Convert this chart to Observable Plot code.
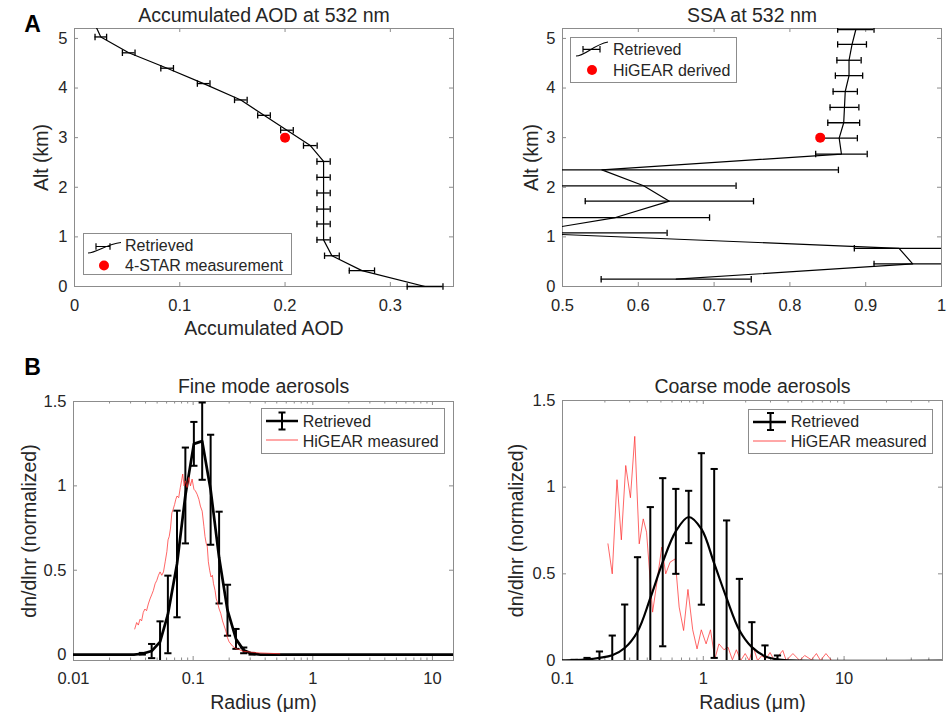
<!DOCTYPE html>
<html>
<head>
<meta charset="utf-8">
<script src="https://cdn.jsdelivr.net/npm/d3@7"></script>
<script src="https://cdn.jsdelivr.net/npm/@observablehq/plot@0.6"></script>
<style>
html,body{margin:0;padding:0;background:#fff;}
#fig{position:relative;width:951px;height:712px;overflow:hidden;background:#fff;}
</style>
</head>
<body>
<div id="fig"></div>
<script>
const FONT = '"Liberation Sans", Arial, Helvetica, sans-serif';
const INK = "#262626";
const BOX = "#8c8c8c";

// ---------- Panel A left: accumulated AOD at 532 nm ----------
const aodAlt = [5.30, 5.03, 4.71, 4.40, 4.09, 3.76, 3.45, 3.15, 2.84, 2.52, 2.20, 1.885, 1.56, 1.26, 0.94, 0.62, 0.32, 0.00];
const aodVal = [0.019, 0.025, 0.0515, 0.088, 0.1227, 0.158, 0.180, 0.2018, 0.224, 0.2366, 0.2366, 0.2366, 0.2366, 0.2366, 0.2366, 0.2445, 0.273, 0.333];
const aodErr = [0, 0.0055, 0.006, 0.006, 0.006, 0.006, 0.006, 0.006, 0.0065, 0.0063, 0.0063, 0.0063, 0.0063, 0.0063, 0.0063, 0.007, 0.012, 0.017];
const starAlt = [3.0];
const starAod = [0.20];
const aodXTicks = [0, 0.1, 0.2, 0.3];
const altTicks = [0, 1, 2, 3, 4, 5];

// ---------- Panel A right: SSA at 532 nm ----------
const ssaAlt = [5.18, 4.88, 4.56, 4.25, 3.93, 3.61, 3.30, 2.99, 2.67, 2.35, 2.03, 1.72, 1.39, 1.08, 0.77, 0.456, 0.147];
const ssaVal = [0.887, 0.882, 0.878, 0.878, 0.873, 0.872, 0.871, 0.865, 0.868, 0.552, 0.607, 0.641, 0.570, 0.449, 0.944, 0.962, 0.650];
const ssaErr = [0.024, 0.019, 0.016, 0.018, 0.016, 0.019, 0.021, 0.024, 0.034, 0.312, 0.122, 0.111, 0.124, 0.189, 0.059, 0.051, 0.099];
const higearAlt = [3.0];
const higearSsa = [0.84];
const ssaXTicks = [0.5, 0.6, 0.7, 0.8, 0.9, 1];

// ---------- Panel B left: fine mode aerosols ----------
const fineR = [0.005, 0.032, 0.0376, 0.045, 0.0529, 0.0615, 0.0733, 0.0861, 0.1014, 0.119, 0.140, 0.1648, 0.1937, 0.228, 0.2647, 0.311, 0.366, 20];
const fineV = [0, 0, 0.005, 0.021, 0.075, 0.238, 0.537, 0.943, 1.249, 1.265, 0.977, 0.575, 0.263, 0.093, 0.025, 0.005, 0, 0];
const fineE = [0, 0, 0.005, 0.042, 0.122, 0.230, 0.316, 0.284, 0.130, 0.229, 0.326, 0.272, 0.151, 0.059, 0.017, 0.005, 0, 0];
const fineHiR = [0.0325, 0.0337, 0.0348, 0.036, 0.0371, 0.0383, 0.0395, 0.0408, 0.0422, 0.0436, 0.045, 0.0465, 0.0481, 0.0497, 0.0513, 0.0529, 0.0547, 0.0565, 0.0584, 0.0603, 0.0617, 0.0631, 0.0647, 0.0664, 0.068, 0.070, 0.0716, 0.0733, 0.0757, 0.0781, 0.080, 0.0818, 0.084, 0.0861, 0.089, 0.092, 0.095, 0.098, 0.1015, 0.1045, 0.108, 0.1117, 0.115, 0.119, 0.123, 0.1256, 0.1285, 0.1313, 0.134, 0.1374, 0.141, 0.1448, 0.148, 0.1525, 0.156, 0.1596, 0.165, 0.170, 0.176, 0.1817, 0.1877, 0.1937, 0.200, 0.2137, 0.228, 0.2433, 0.260, 0.2767, 0.300, 0.330, 0.359, 0.420, 0.530];
const fineHiV = [0.152, 0.19, 0.175, 0.21, 0.20, 0.25, 0.27, 0.26, 0.30, 0.33, 0.354, 0.38, 0.42, 0.44, 0.47, 0.49, 0.47, 0.49, 0.55, 0.61, 0.68, 0.70, 0.75, 0.84, 0.86, 0.89, 0.92, 0.94, 0.93, 0.99, 1.03, 1.07, 1.00, 1.03, 0.99, 1.05, 1.00, 1.04, 0.98, 0.97, 0.95, 0.92, 0.88, 0.85, 0.76, 0.70, 0.66, 0.64, 0.55, 0.50, 0.46, 0.47, 0.42, 0.38, 0.33, 0.31, 0.27, 0.245, 0.20, 0.17, 0.14, 0.10, 0.075, 0.05, 0.035, 0.03, 0.02, 0.018, 0.015, 0.012, 0.01, 0.008, 0.005];
const fineXTicks = [0.01, 0.1, 1, 10];
const dnTicks = [0, 0.5, 1, 1.5];

// ---------- Panel B right: coarse mode aerosols ----------
const coarseR = [0.098, 0.1211, 0.1494, 0.183, 0.2256, 0.2765, 0.341, 0.4204, 0.515, 0.638, 0.787, 0.969, 1.195, 1.464, 1.805, 2.213, 2.742, 3.365, 4.15, 60];
const coarseV = [0.001, 0.002, 0.006, 0.015, 0.030, 0.072, 0.166, 0.360, 0.567, 0.745, 0.828, 0.759, 0.560, 0.360, 0.175, 0.077, 0.025, 0.006, 0.001, 0];
const coarseE = [0, 0.002, 0.009, 0.037, 0.114, 0.251, 0.430, 0.525, 0.485, 0.245, 0.151, 0.437, 0.545, 0.448, 0.296, 0.144, 0.062, 0.023, 0, 0];
const coarseHiR = [0.2103, 0.2256, 0.2438, 0.2618, 0.2812, 0.3037, 0.326, 0.3507, 0.3746, 0.3954, 0.4365, 0.4667, 0.5067, 0.541, 0.5807, 0.631, 0.674, 0.7247, 0.778, 0.841, 0.903, 0.968, 1.047, 1.125, 1.209, 1.292, 1.402, 1.498, 1.609, 1.718, 1.845, 1.984, 2.118, 2.264, 2.43, 2.597, 2.79, 2.98, 3.2, 3.42, 3.67, 3.88, 4.33, 4.84, 5.25, 5.86, 6.36, 6.8, 7.43, 8.15];
const coarseHiV = [0.673, 0.50, 1.043, 0.696, 1.125, 0.939, 1.293, 0.673, 0.817, 0.74, 0.279, 0.442, 0.654, 0.50, 0.567, 0.586, 0.308, 0.173, 0.41, 0.177, 0.067, 0.177, 0.096, 0.177, 0.01, 0.096, 0.062, 0.077, 0.004, 0.062, 0, 0.04, 0, 0.077, 0, 0.027, 0.01, 0.046, 0, 0.027, 0.058, 0, 0.04, 0, 0.029, 0.004, 0.04, 0, 0.04, 0];
const coarseXTicks = [0.1, 1, 10];

// ---------- helpers ----------
const fig = document.getElementById("fig");
const vbar = {draw(ctx, size) { const h = Math.sqrt(size / Math.PI); ctx.moveTo(0, -h); ctx.lineTo(0, h); }};
const hbar = {draw(ctx, size) { const h = Math.sqrt(size / Math.PI); ctx.moveTo(-h, 0); ctx.lineTo(h, 0); }};
const style = {background: "transparent", fontFamily: FONT, fontSize: "16.5px", color: INK, overflow: "visible"};

function boxTicks(xs, ys, fw, fh, len) {
  const o = {stroke: BOX, strokeWidth: 1};
  return [
    Plot.tickX(xs, {x: d => d, insetTop: fh - len, ...o}),
    Plot.tickX(xs, {x: d => d, insetBottom: fh - len, ...o}),
    Plot.tickY(ys, {y: d => d, insetRight: fw - len, ...o}),
    Plot.tickY(ys, {y: d => d, insetLeft: fw - len, ...o})
  ];
}
function minorTicks(lo, hi) {
  const out = [];
  for (let e = Math.floor(Math.log10(lo)); e <= Math.ceil(Math.log10(hi)); e++)
    for (let m = 2; m <= 9; m++) { const v = m * Math.pow(10, e); if (v > lo && v < hi) out.push(+v.toPrecision(3)); }
  return out;
}
function minorX(xs, fh, len) {
  const o = {stroke: BOX, strokeWidth: 1};
  return [
    Plot.tickX(xs, {x: d => d, insetTop: fh - len, ...o}),
    Plot.tickX(xs, {x: d => d, insetBottom: fh - len, ...o})
  ];
}
function labels({title, xlabel, ylabel, tdy, ydx}) {
  return [
    Plot.text([title], {text: d => d, frameAnchor: "top", lineAnchor: "top", textAnchor: "middle", dy: tdy, fontSize: 19.5, fill: INK}),
    Plot.text([xlabel], {text: d => d, frameAnchor: "bottom", lineAnchor: "top", textAnchor: "middle", dy: 35, fontSize: 19.5, fill: INK}),
    Plot.text([ylabel], {text: d => d, frameAnchor: "left", lineAnchor: "middle", textAnchor: "middle", rotate: -90, dx: ydx, fontSize: 19.5, fill: INK})
  ];
}
function place(svg, left, top) {
  svg.style.position = "absolute";
  svg.style.left = left + "px";
  svg.style.top = top + "px";
  fig.appendChild(svg);
}

// ---------- Panel A left ----------
const aodRows = aodAlt.map((a, i) => ({alt: a, val: aodVal[i], err: aodErr[i]}));
const aodBars = aodRows.filter(d => d.err > 0);
const starRows = starAlt.map((a, i) => ({alt: a, aod: starAod[i]}));
place(Plot.plot({
  width: 480, height: 340, marginLeft: 74, marginRight: 27, marginTop: 28, marginBottom: 54,
  x: {domain: [0, 0.36]}, y: {domain: [0, 5.2]}, style,
  marks: [
    Plot.frame({stroke: BOX}),
    ...boxTicks(aodXTicks, altTicks, 379, 258, 4),
    Plot.axisX(aodXTicks, {tickSize: 0, tickPadding: 13, label: null, tickFormat: d => String(d)}),
    Plot.axisY(altTicks, {tickSize: 0, tickPadding: 7, label: null, tickFormat: d => String(d)}),
    Plot.line(aodRows, {x: "val", y: "alt", stroke: "black", strokeWidth: 1.2, clip: true}),
    Plot.ruleY(aodBars, {y: "alt", x1: d => d.val - d.err, x2: d => d.val + d.err, stroke: "black", strokeWidth: 1.3}),
    Plot.dot(aodBars, {x: d => d.val - d.err, y: "alt", symbol: vbar, r: 3.2, stroke: "black", strokeWidth: 1.3, fill: "none"}),
    Plot.dot(aodBars, {x: d => d.val + d.err, y: "alt", symbol: vbar, r: 3.2, stroke: "black", strokeWidth: 1.3, fill: "none"}),
    Plot.dot(starRows, {x: "aod", y: "alt", r: 5, fill: "red", stroke: "none"}),
    ...labels({title: "Accumulated AOD at 532 nm", xlabel: "Accumulated AOD", ylabel: "Alt (km)", tdy: -20.7, ydx: -33}),
    Plot.text(["A"], {text: d => d, frameAnchor: "top-left", lineAnchor: "top", textAnchor: "middle", dx: -42, dy: -13, fontSize: 23, fontWeight: "bold", fill: "black"})
  ]
}), 0, 0);

// ---------- Panel A right ----------
const ssaRows = ssaAlt.map((a, i) => ({alt: a, val: ssaVal[i], err: ssaErr[i]}));
const higearRows = higearAlt.map((a, i) => ({alt: a, ssa: higearSsa[i]}));
place(Plot.plot({
  width: 471, height: 340, marginLeft: 82, marginRight: 10, marginTop: 28, marginBottom: 54,
  x: {domain: [0.5, 1]}, y: {domain: [0, 5.2]}, style,
  marks: [
    Plot.frame({stroke: BOX}),
    ...boxTicks(ssaXTicks, altTicks, 379, 258, 4),
    Plot.axisX(ssaXTicks, {tickSize: 0, tickPadding: 13, label: null, tickFormat: d => String(d)}),
    Plot.axisY(altTicks, {tickSize: 0, tickPadding: 7, label: null, tickFormat: d => String(d)}),
    Plot.line(ssaRows, {x: "val", y: "alt", stroke: "black", strokeWidth: 1.2, clip: true}),
    Plot.ruleY(ssaRows, {y: "alt", x1: d => d.val - d.err, x2: d => d.val + d.err, stroke: "black", strokeWidth: 1.3, clip: true}),
    Plot.dot(ssaRows, {x: d => d.val - d.err, y: "alt", symbol: vbar, r: 3.2, stroke: "black", strokeWidth: 1.3, fill: "none", clip: true}),
    Plot.dot(ssaRows, {x: d => d.val + d.err, y: "alt", symbol: vbar, r: 3.2, stroke: "black", strokeWidth: 1.3, fill: "none", clip: true}),
    Plot.dot(higearRows, {x: "ssa", y: "alt", r: 5, fill: "red", stroke: "none"}),
    ...labels({title: "SSA at 532 nm", xlabel: "SSA", ylabel: "Alt (km)", tdy: -20.7, ydx: -31})
  ]
}), 480, 0);

// ---------- Panel B left ----------
const fineRows = fineR.map((r, i) => ({r, v: fineV[i], e: fineE[i]}));
const fineBars = fineRows.filter(d => d.e > 0);
const fineHi = fineHiR.map((r, i) => ({r, v: fineHiV[i]}));
place(Plot.plot({
  width: 480, height: 372, marginLeft: 73, marginRight: 27, marginTop: 61, marginBottom: 52,
  x: {type: "log", domain: [0.01, 15]}, y: {domain: [-0.035, 1.5]}, style,
  marks: [
    Plot.frame({stroke: BOX}),
    ...boxTicks(fineXTicks, dnTicks, 380, 259, 4),
    ...minorX(minorTicks(0.01, 15), 259, 2.5),
    Plot.axisX(fineXTicks, {tickSize: 0, tickPadding: 12, label: null, tickFormat: d => String(d)}),
    Plot.axisY(dnTicks, {tickSize: 0, tickPadding: 7, label: null, tickFormat: d => String(d)}),
    Plot.line(fineRows, {x: "r", y: "v", stroke: "black", strokeWidth: 2.7, clip: true}),
    Plot.ruleX(fineBars, {x: "r", y1: d => d.v - d.e, y2: d => d.v + d.e, stroke: "black", strokeWidth: 2, clip: true}),
    Plot.dot(fineBars, {x: "r", y: d => d.v - d.e, symbol: hbar, r: 3.6, stroke: "black", strokeWidth: 2, fill: "none", clip: true}),
    Plot.dot(fineBars, {x: "r", y: d => d.v + d.e, symbol: hbar, r: 3.6, stroke: "black", strokeWidth: 2, fill: "none", clip: true}),
    Plot.line(fineHi, {x: "r", y: "v", stroke: "#ff2a2a", strokeWidth: 0.9, strokeOpacity: 0.8, clip: true}),
    ...labels({title: "Fine mode aerosols", xlabel: "Radius (μm)", ylabel: "dn/dlnr (normalized)", tdy: -22, ydx: -43.5}),
    Plot.text(["B"], {text: d => d, frameAnchor: "top-left", lineAnchor: "top", textAnchor: "middle", dx: -41, dy: -43, fontSize: 23, fontWeight: "bold", fill: "black"})
  ]
}), 0, 340);

// ---------- Panel B right ----------
const coarseRows = coarseR.map((r, i) => ({r, v: coarseV[i], e: coarseE[i]}));
const coarseBars = coarseRows.filter(d => d.e > 0);
const coarseHi = coarseHiR.map((r, i) => ({r, v: coarseHiV[i]}));
place(Plot.plot({
  width: 471, height: 372, marginLeft: 82, marginRight: 9, marginTop: 60, marginBottom: 52,
  x: {type: "log", domain: [0.1, 50]}, y: {domain: [0, 1.5]}, style,
  marks: [
    Plot.frame({stroke: BOX}),
    ...boxTicks(coarseXTicks, dnTicks, 380, 260, 4),
    ...minorX(minorTicks(0.1, 50), 260, 2.5),
    Plot.axisX(coarseXTicks, {tickSize: 0, tickPadding: 12, label: null, tickFormat: d => String(d)}),
    Plot.axisY(dnTicks, {tickSize: 0, tickPadding: 7, label: null, tickFormat: d => String(d)}),
    Plot.line(coarseHi, {x: "r", y: "v", stroke: "#ff2a2a", strokeWidth: 0.9, strokeOpacity: 0.8, clip: true}),
    Plot.line(coarseRows, {x: "r", y: "v", stroke: "black", strokeWidth: 2.2, curve: "catmull-rom", clip: true}),
    Plot.ruleX(coarseBars, {x: "r", y1: d => d.v - d.e, y2: d => d.v + d.e, stroke: "black", strokeWidth: 2, clip: true}),
    Plot.dot(coarseBars, {x: "r", y: d => d.v - d.e, symbol: hbar, r: 3.6, stroke: "black", strokeWidth: 2, fill: "none", clip: true}),
    Plot.dot(coarseBars, {x: "r", y: d => d.v + d.e, symbol: hbar, r: 3.6, stroke: "black", strokeWidth: 2, fill: "none", clip: true}),
    ...labels({title: "Coarse mode aerosols", xlabel: "Radius (μm)", ylabel: "dn/dlnr (normalized)", tdy: -21, ydx: -46})
  ]
}), 480, 340);

// ---------- legends (overlay) ----------
const ov = d3.create("svg").attr("width", 951).attr("height", 712)
  .style("position", "absolute").style("left", "0px").style("top", "0px")
  .style("pointer-events", "none").style("font-family", FONT);
function box(x, y, w, h) {
  ov.append("rect").attr("x", x + 0.5).attr("y", y + 0.5).attr("width", w).attr("height", h)
    .attr("fill", "white").attr("stroke", BOX).attr("stroke-width", 1);
}
function txt(x, cy, s) {
  ov.append("text").attr("x", x).attr("y", cy + 5.8).attr("font-size", 16).attr("fill", INK).text(s);
}
function seg(d, w, c) { ov.append("path").attr("d", d).attr("stroke", c || "black").attr("stroke-width", w).attr("fill", "none"); }

// A left legend
box(83, 233, 208, 41);
seg("M88,253 C97,253 106,244 121,242.5", 1.2);
seg("M96,246.5H110 M96,243.3V249.7 M110,243.3V249.7", 1.2);
txt(125, 245, "Retrieved");
ov.append("circle").attr("cx", 104).attr("cy", 265.5).attr("r", 5).attr("fill", "red");
txt(125, 265.5, "4-STAR measurement");

// A right legend
box(570, 37, 166, 45);
seg("M576,56 C585,56 593,45 608,42", 1.2);
seg("M583,49.3H600 M583,46.1V52.5 M600,46.1V52.5", 1.2);
txt(613, 49, "Retrieved");
ov.append("circle").attr("cx", 592).attr("cy", 70).attr("r", 5).attr("fill", "red");
txt(613, 70, "HiGEAR derived");

// B left legend
box(261, 408, 183, 45);
seg("M266,421H298", 2.5);
seg("M282,412.5V429.5 M278.5,412.5H285.5 M278.5,429.5H285.5", 2);
txt(302.7, 421, "Retrieved");
seg("M266,440H298", 1, "#ff5050");
txt(302.7, 441, "HiGEAR measured");

// B right legend
box(748, 409, 184, 44);
seg("M753,422H786", 2.5);
seg("M770.5,413V430 M767,413H774 M767,430H774", 2);
txt(790.7, 421.5, "Retrieved");
seg("M753,441H786", 1, "#ff5050");
txt(790.7, 441.5, "HiGEAR measured");

fig.appendChild(ov.node());
</script>
</body>
</html>
